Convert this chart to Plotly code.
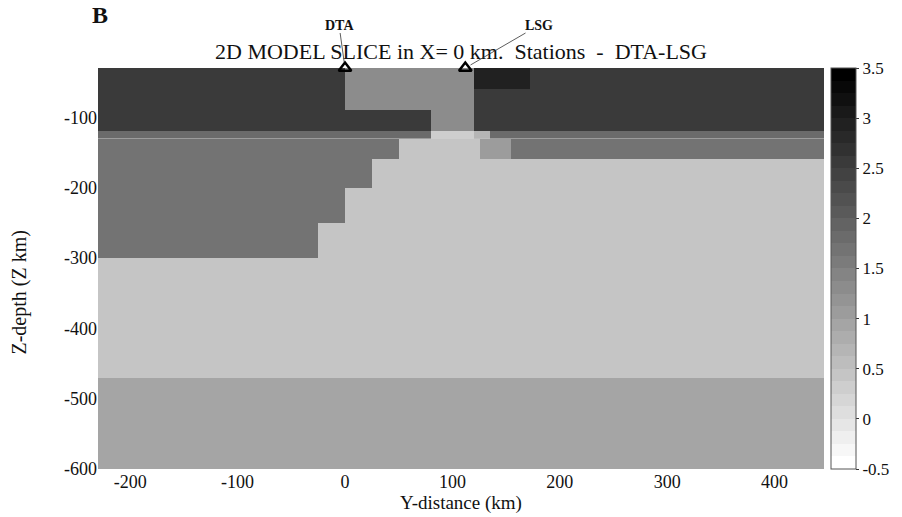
import plotly.graph_objects as go

# Cell edges (km)
x_edges = [-230, -25, 0, 25, 50, 80, 120, 126, 135, 155, 172, 446]
y_edges = [-600, -470, -300, -250, -200, -160, -131, -130, -120, -90, -60, -30]

# Model values (log resistivity), rows bottom -> top, columns left -> right
z_rows = [
    [0.9, 0.9, 0.9, 0.9, 0.9, 0.9, 0.9, 0.9, 0.9, 0.9, 0.9],   # -600..-470
    [0.4, 0.4, 0.4, 0.4, 0.4, 0.4, 0.4, 0.4, 0.4, 0.4, 0.4],   # -470..-300
    [1.7, 0.4, 0.4, 0.4, 0.4, 0.4, 0.4, 0.4, 0.4, 0.4, 0.4],   # -300..-250
    [1.7, 1.7, 0.4, 0.4, 0.4, 0.4, 0.4, 0.4, 0.4, 0.4, 0.4],   # -250..-200
    [1.7, 1.7, 1.7, 0.4, 0.4, 0.4, 0.4, 0.4, 0.4, 0.4, 0.4],   # -200..-160
    [1.7, 1.7, 1.7, 1.7, 0.4, 0.4, 0.4, 1.0, 1.0, 1.7, 1.7],   # -160..-131
    [1.1, 1.1, 1.1, 1.1, 1.1, 0.35, 0.6, 0.6, 1.1, 1.1, 1.1],  # -131..-130
    [1.8, 1.8, 1.8, 1.8, 1.8, 0.35, 0.65, 0.65, 1.8, 1.8, 1.8],  # -130..-120
    [2.6, 2.6, 2.6, 2.6, 2.6, 1.3, 2.6, 2.6, 2.6, 2.6, 2.6],   # -120..-90
    [2.6, 2.6, 1.3, 1.3, 1.3, 1.3, 2.6, 2.6, 2.6, 2.6, 2.6],   # -90..-60
    [2.6, 2.6, 1.3, 1.3, 1.3, 1.3, 2.9, 2.9, 2.9, 2.9, 2.6],   # -60..-30
]

stations = ["DTA", "LSG"]
station_x = [0, 112]
station_y = [-30, -30]
station_ax = [-6, 74]

x_ticks = [-200, -100, 0, 100, 200, 300, 400]
y_ticks = [-100, -200, -300, -400, -500, -600]
cb_ticks = [-0.5, 0, 0.5, 1, 1.5, 2, 2.5, 3, 3.5]

# stepped reversed gray colormap
N = 32
cscale = []
for i in range(N):
    g = round(255 * (1 - i / (N - 1)))
    c = f"rgb({g},{g},{g})"
    cscale.append([i / N, c])
    cscale.append([(i + 1) / N, c])

FONT = "Liberation Serif"
NB = "\u00a0"

fig = go.Figure()
fig.add_trace(go.Heatmap(
    z=z_rows, x=x_edges, y=y_edges,
    zmin=-0.5, zmax=3.5, colorscale=cscale,
    colorbar=dict(
        thickness=25, len=1.0, lenmode="fraction", y=0.5, yanchor="middle",
        x=1.0096, xanchor="left", xpad=0, ypad=0,
        tickvals=cb_ticks, ticktext=[str(t) for t in cb_ticks],
        ticks="outside", ticklen=3, tickcolor="#333",
        outlinecolor="#555", outlinewidth=1,
        tickfont=dict(family=FONT, size=17, color="#111"),
    ),
    hoverinfo="skip",
))
fig.add_trace(go.Scatter(
    x=station_x, y=station_y, mode="markers",
    marker=dict(symbol="triangle-up-open", size=11, color="black",
                line=dict(width=2.5, color="black")),
    cliponaxis=False, showlegend=False, hoverinfo="skip",
))

title_txt = f"2D MODEL SLICE in X= 0 km.{NB}{NB}Stations{NB}{NB}-{NB}{NB}DTA-LSG"
fig.add_annotation(x=0.5, y=1, xref="paper", yref="paper", xanchor="center", yanchor="bottom",
                   yshift=3, text=title_txt, borderpad=0,
                   showarrow=False, font=dict(family=FONT, size=22, color="#111"))

for name, sx, sy, ax in zip(stations, station_x, station_y, station_ax):
    fig.add_annotation(
        x=sx, y=sy, xref="x", yref="y", text=f"<b>{name}</b>",
        showarrow=True, arrowhead=0, arrowwidth=0.8, arrowcolor="#333",
        ax=ax, ay=-43, font=dict(family=FONT, size=14, color="#111"),
        standoff=6, borderpad=0,
    )

fig.add_annotation(x=0, y=1, xref="paper", yref="paper", xanchor="left", yanchor="bottom",
                   xshift=-8, yshift=38, text="<b>B</b>", showarrow=False,
                   font=dict(family=FONT, size=24, color="#111"))

# y-axis title
fig.add_annotation(x=0, y=0.44, xref="paper", yref="paper", xanchor="center", yanchor="middle",
                   xshift=-78, text="Z-depth (Z km)", textangle=-90, showarrow=False,
                   font=dict(family=FONT, size=20, color="#111"))

fig.update_layout(
    width=902, height=517,
    margin=dict(l=98, r=76, t=68, b=45),
    paper_bgcolor="white", plot_bgcolor="white",
    font=dict(family=FONT, color="#111"),
    showlegend=False,
)
fig.update_xaxes(range=[-230, 446], tickvals=x_ticks, ticktext=[str(t) for t in x_ticks],
                 showgrid=False, zeroline=False, ticks="", showline=False,
                 tickfont=dict(family=FONT, size=18),
                 title=dict(text="Y-distance (km)", font=dict(family=FONT, size=19), standoff=0))
fig.update_yaxes(range=[-600, -30], tickvals=y_ticks, ticktext=[str(t) for t in y_ticks],
                 showgrid=False, zeroline=False, ticks="", showline=False,
                 tickfont=dict(family=FONT, size=18))

fig.write_html("out.html")
